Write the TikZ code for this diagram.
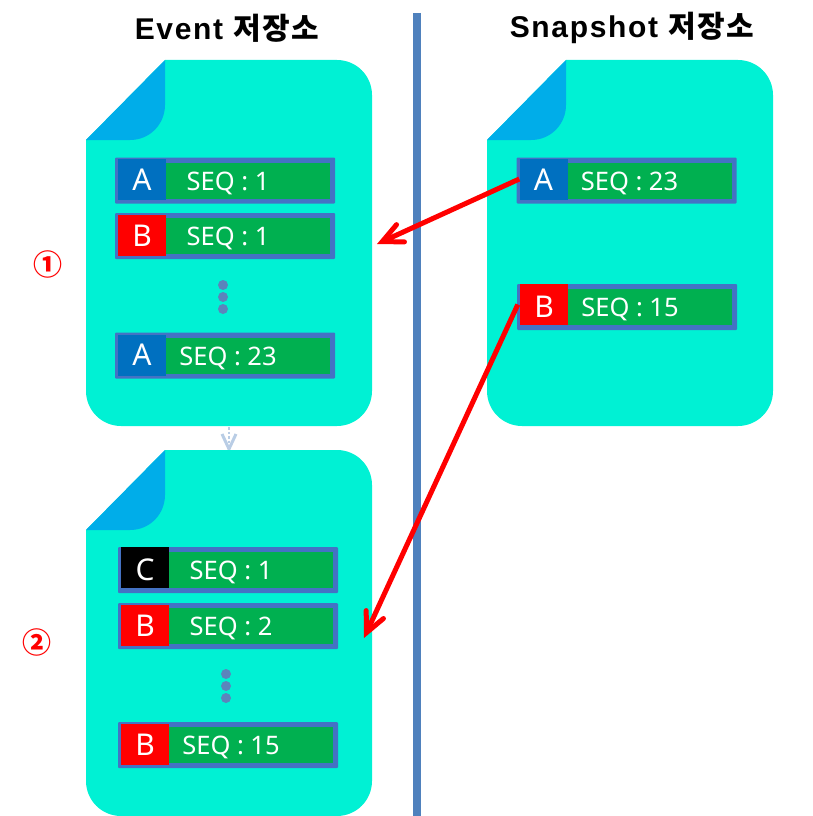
\documentclass[tikz,border=0pt]{standalone}
\usepackage{fontspec}
\setmainfont{Noto Sans}
\newfontfamily\korfont{Noto Sans CJK KR}
\newfontfamily\titlefont[LetterSpace=5.5]{Liberation Sans}
\newfontfamily\titlekor[LetterSpace=5.5]{Noto Sans CJK KR}
\usetikzlibrary{arrows.meta,calc}
\definecolor{docbody}{HTML}{00F1D4}
\definecolor{docfold}{HTML}{00ADE9}
\definecolor{framecol}{HTML}{4472C4}
\definecolor{seqgreen}{HTML}{00B050}
\definecolor{ablue}{HTML}{0070C0}
\definecolor{barcol}{HTML}{4F81BD}
\definecolor{dotcol}{HTML}{5B84BC}
\definecolor{paleline}{HTML}{B9CDE5}
\newcommand{\seqtext}[1]{\raisebox{-9.5pt}[0pt][0pt]{\makebox[164pt][l]{\makebox[124pt][c]{SEQ : #1}}}}
\newcommand{\lettertext}[2]{\raisebox{\dimexpr -#1pt-10pt\relax}[0pt][0pt]{#2}}
\begin{document}
\begin{tikzpicture}[x=1pt,y=-1pt,
  title node/.style={font=\titlefont\bfseries\fontsize{30}{30}\selectfont,text=black,inner sep=0pt},
  row frame/.style={rectangle,fill=framecol,rounded corners=1pt,minimum width=220pt,minimum height=46pt,inner sep=0pt},
  letter cell/.style={rectangle,text=white,font=\fontsize{30}{30}\selectfont,minimum width=48pt,minimum height=41pt,inner sep=0pt,anchor=west},
  seq cell/.style={rectangle,fill=seqgreen,text=white,font=\fontsize{25.5}{26}\selectfont,minimum width=164pt,minimum height=36pt,inner sep=0pt,anchor=west},
  dot node/.style={circle,fill=dotcol,minimum size=10pt,inner sep=0pt},
  mark node/.style={font=\korfont\bfseries\fontsize{29}{29}\selectfont,text=red,inner sep=0pt},
  red arrow/.style={draw=red,line width=5pt,-{Straight Barb[length=20pt,width=19pt,line cap=round,line join=miter]}},
  docpage/.pic={
    \fill[docbody] (0,80) -- (79,0) [rounded corners=35pt] -- (286,0) -- (286,366) -- (0,366) [sharp corners] -- cycle;
    \fill[docfold] (0,80) -- (79,0) -- (79,45) .. controls (79,64) and (64,80) .. (44,80) -- cycle;
  }]

  \useasboundingbox (0,0) rectangle (813,816);

  \node[title node] (eventTitle) at (227,28) {Event \titlekor 저장소};
  \node[title node] (snapTitle) at (632,28) {Snapshot \titlekor 저장소};

  \coordinate (barTop) at (417,13);
  \coordinate (barEnd) at (417,816);
  \draw[barcol,line width=8pt] (barTop) -- (barEnd);

  % small link between the two pages
  \coordinate (linkTop) at (229,427);
  \coordinate (linkEnd) at (229,449);
  \draw[paleline,line width=2.5pt,dotted] (linkTop) -- (linkEnd);
  \draw[paleline,line width=3pt] (222,434) -- (linkEnd) -- (236,434);

  \pic at (86,60) {docpage};
  \pic at (487,60) {docpage};
  \pic at (86,450) {docpage};

  \foreach \rowname/\x/\y/\up/\cellcol/\ch/\num in {
    evA/225/180.5/1.5/ablue/A/1, evB/225/236/0.5/red/B/1, evC/225/355.5/0.5/ablue/A/23,
    lowA/228/570/2.5/black/C/1, lowB/228/626/0.5/red/B/2, lowC/228/745/0.5/red/B/15,
    snapA/626.5/180.5/1.5/ablue/A/23, snapB/627/307/2.5/red/B/15}
  {
    \node[row frame] (frame\rowname) at (\x,\y) {};
    \node[letter cell,fill=\cellcol] (\rowname) at ([xshift=3pt,yshift=\up pt]frame\rowname.west) {\lettertext{\up}{\ch}};
    \node[seq cell] (seq\rowname) at ([xshift=51pt]frame\rowname.west) {\seqtext{\num}};
  }

  \foreach \dotname/\x/\y in {a/223/285, b/223/297, c/223/309, d/226/674, e/226/686, f/226/698}
    \node[dot node] (dot\dotname) at (\x,\y) {};

  \node[mark node] (markOne) at (48,264) {①};
  \node[mark node] (markTwo) at (37,642) {②};

  \coordinate (hitOne) at (377,244);
  \coordinate (hitTwo) at (364,638);
  \draw[red arrow] (snapA.west) -- (hitOne);
  \draw[red arrow] ([xshift=-2pt]snapB.west) -- (hitTwo);
\end{tikzpicture}
\end{document}
